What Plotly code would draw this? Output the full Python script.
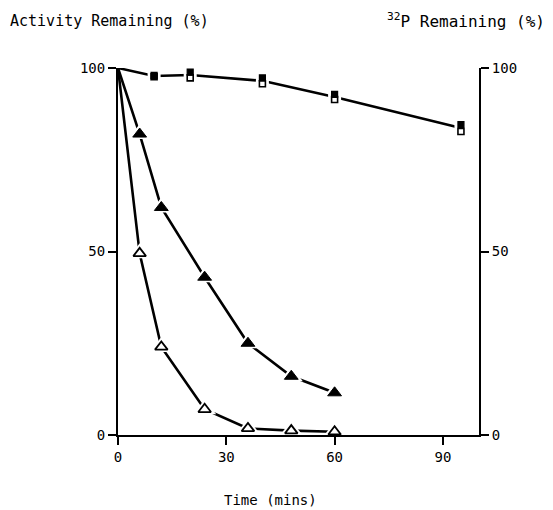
import plotly.graph_objects as go

# Data
time_tri = [0, 6, 12, 24, 36, 48, 60]
activity_filled = [100, 82, 62, 43, 25, 16, 11.5]
activity_open = [100, 49.5, 24, 7, 1.8, 1.2, 0.9]

time_sq = [0, 10, 20, 40, 60, 95]
p32_filled = [100, 98, 98.9, 97.3, 92.8, 84.6]
p32_open = [100, 97.6, 97.3, 95.7, 91.4, 82.7]

x_ticks = [0, 30, 60, 90]
y_ticks = [0, 50, 100]

FONT = "DejaVu Sans Mono"
fig = go.Figure()

LW = 2.6
# lines
fig.add_trace(go.Scatter(x=time_tri, y=activity_filled, mode="lines",
                         line=dict(color="black", width=LW), showlegend=False))
fig.add_trace(go.Scatter(x=time_tri, y=activity_open, mode="lines",
                         line=dict(color="black", width=LW), showlegend=False))
mid = [(a + b) / 2 for a, b in zip(p32_filled, p32_open)]
fig.add_trace(go.Scatter(x=time_sq, y=mid, mode="lines",
                         line=dict(color="black", width=LW), showlegend=False))

# white halos to give broken-line look
for xs, ys in [(time_tri[1:], activity_filled[1:]), (time_tri[1:], activity_open[1:])]:
    fig.add_trace(go.Scatter(x=xs, y=ys, mode="markers",
                             marker=dict(symbol="triangle-up", size=20, color="white", line=dict(width=0)),
                             showlegend=False, cliponaxis=False))
fig.add_trace(go.Scatter(x=time_sq[1:], y=mid[1:], mode="markers",
                         marker=dict(symbol="square", size=13, color="white", line=dict(width=0)),
                         showlegend=False))

# markers
fig.add_trace(go.Scatter(x=time_tri[1:], y=activity_filled[1:], mode="markers",
                         marker=dict(symbol="triangle-up", size=12, color="black",
                                     line=dict(color="black", width=1)),
                         showlegend=False))
fig.add_trace(go.Scatter(x=time_tri[1:], y=activity_open[1:], mode="markers",
                         marker=dict(symbol="triangle-up", size=11, color="white",
                                     line=dict(color="black", width=1.8)),
                         showlegend=False, cliponaxis=False))
fig.add_trace(go.Scatter(x=time_sq[1:], y=p32_open[1:], mode="markers",
                         marker=dict(symbol="square", size=6, color="white",
                                     line=dict(color="black", width=1.6)),
                         showlegend=False))
fig.add_trace(go.Scatter(x=time_sq[1:], y=p32_filled[1:], mode="markers",
                         marker=dict(symbol="square", size=6, color="black",
                                     line=dict(color="black", width=1.2)),
                         showlegend=False))

fig.add_trace(go.Scatter(x=[0], y=[100], yaxis="y2", mode="markers",
                         marker=dict(opacity=0), showlegend=False, hoverinfo="skip"))

tickfont = dict(family=FONT, size=14, color="black")
fig.update_layout(
    width=553, height=510,
    margin=dict(l=118, r=74, t=68, b=75),
    paper_bgcolor="white", plot_bgcolor="white",
    showlegend=False,
    xaxis=dict(range=[0, 100], tickvals=x_ticks, ticks="outside", ticklen=8, tickwidth=2,
               showline=True, linecolor="black", linewidth=2, showgrid=False, zeroline=False,
               tickfont=tickfont, tickcolor="black"),
    yaxis=dict(range=[0, 100], tickvals=y_ticks, ticks="outside", ticklen=8, tickwidth=2,
               showline=True, linecolor="black", linewidth=2, showgrid=False, zeroline=False,
               tickfont=tickfont, tickcolor="black"),
    yaxis2=dict(range=[0, 100], tickvals=y_ticks, ticks="outside", ticklen=8, tickwidth=2,
                overlaying="y", side="right",
                showline=True, linecolor="black", linewidth=2, showgrid=False, zeroline=False,
                tickfont=tickfont, tickcolor="black"),
    annotations=[
        dict(text="Activity Remaining (%)", x=8, y=21, xref="paper", yref="paper",
             showarrow=False, font=dict(family=FONT, size=15, color="black"),
             xanchor="left", yanchor="middle"),
        dict(text="<sup>32</sup>P Remaining (%)", x=547, y=20, xref="paper", yref="paper",
             showarrow=False, font=dict(family=FONT, size=16, color="black"),
             xanchor="right", yanchor="middle"),
        dict(text="Time (mins)", x=270, y=500, xref="paper", yref="paper",
             showarrow=False, font=dict(family=FONT, size=14, color="black"),
             xanchor="center", yanchor="middle"),
    ],
)

# convert pixel annotation positions to paper coords
pw = 553 - 118 - 74
ph = 510 - 68 - 75
for a in fig.layout.annotations:
    a.x = (a.x - 118) / pw
    a.y = (510 - 75 - a.y) / ph

fig.write_html("out.html")
